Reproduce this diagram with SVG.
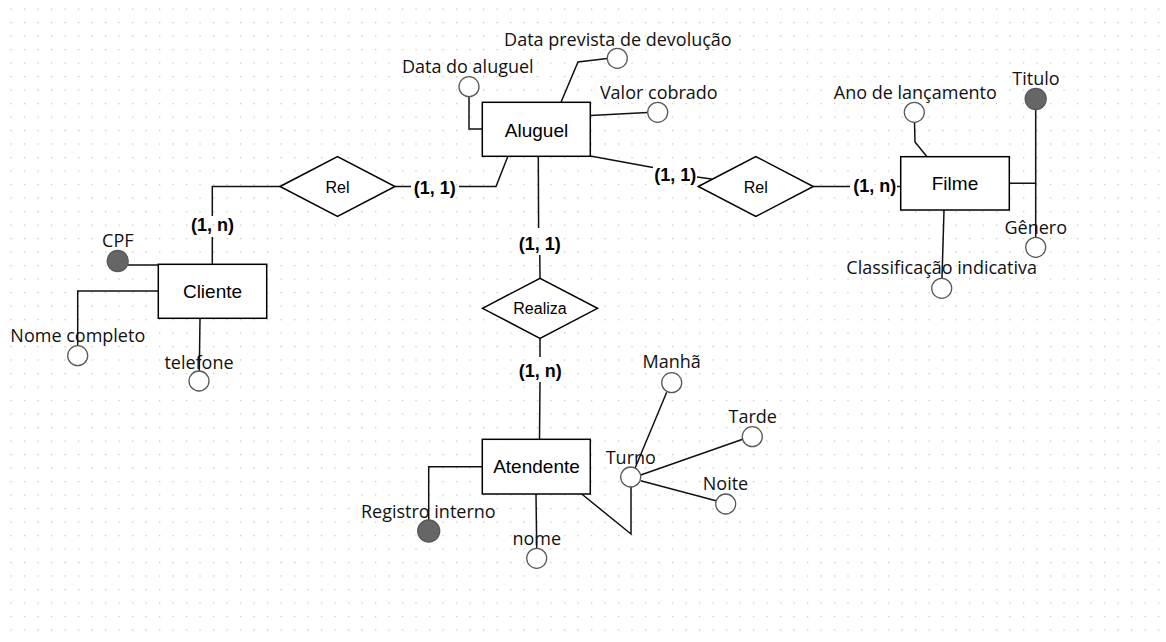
<svg xmlns="http://www.w3.org/2000/svg" width="1166" height="642" viewBox="0 0 1166 642">
<defs>
<pattern id="grid" patternUnits="userSpaceOnUse" x="10.4" y="8.4" width="13.5" height="13.5">
<rect x="0" y="0" width="1.3" height="1.3" fill="#c4c4c4"/>
</pattern>
<style>
.ent{fill:#fff;stroke:#000;stroke-width:1.5}
.rel{fill:#fff;stroke:#000;stroke-width:1.5}
.att{fill:#fff;stroke:#595959;stroke-width:1.3}
.key{fill:#666;stroke:#595959;stroke-width:1.3}
.ln{fill:none;stroke:#111;stroke-width:1.5}
.et{font-family:"Liberation Sans",Arial,sans-serif;font-size:19px;text-anchor:middle;fill:#000}
.rt{font-family:"Liberation Sans",Arial,sans-serif;font-size:16px;text-anchor:middle;fill:#000}
.at{font-family:"Open Sans","Noto Sans",sans-serif;font-size:18px;text-anchor:middle;fill:#111}
.card{font-family:"Liberation Sans",Arial,sans-serif;font-size:18px;font-weight:bold;text-anchor:middle;fill:#000}
</style>
</defs>
<rect width="1166" height="642" fill="#fff"/>
<rect width="1166" height="642" fill="url(#grid)"/>

<g id="connectors">
<path class="ln" d="M508,156 L496,186.5 L459,186.5 M411,186.5 L395,186.5"/>
<path class="ln" d="M280,186.5 L212.3,186.5 L212.3,216 M212.3,237 L212.3,264.3"/>
<path class="ln" d="M590.3,156 L653,167.5 M697,177 L711.7,179"/>
<path class="ln" d="M813.3,186.5 L850,186.5 M897,186.5 L900.7,186.5"/>
<path class="ln" d="M538.3,156.3 L538.6,228 M539.8,255 L540,278.3"/>
<path class="ln" d="M540,338.3 L540,357 M540,382 L539.5,439.3"/>
<path class="ln" d="M469,97 L469,129 L482.3,129"/>
<path class="ln" d="M561,102.3 L578,62 L607.3,58.5"/>
<path class="ln" d="M590.3,115.5 L647.7,112.5"/>
<path class="ln" d="M914.5,122.3 L915,142 L927,156.7"/>
<path class="ln" d="M1009.3,183.3 L1035.7,183.3 L1035.7,109"/>
<path class="ln" d="M1035.7,183.3 L1035.7,237.3"/>
<path class="ln" d="M944,210 L942,278.3"/>
<path class="ln" d="M127.5,265 L158.3,265"/>
<path class="ln" d="M158.3,291 L77.7,291 L77.7,345.7"/>
<path class="ln" d="M200,318.3 L199.3,371"/>
<path class="ln" d="M482.3,466.7 L428.7,466.7 L428.7,520"/>
<path class="ln" d="M536,494 L536.7,548.3"/>
<path class="ln" d="M581.7,494 L631,534 L631,487"/>
<path class="ln" d="M666.7,392.3 L635,468.3"/>
<path class="ln" d="M742.7,439.3 L640.7,475"/>
<path class="ln" d="M640.7,480.7 L716,500.7"/>
</g>

<g id="aluguel">
<rect class="ent" x="482.3" y="102.3" width="108" height="54"/>
<text class="et" x="536.5" y="136.5">Aluguel</text>
</g>
<g id="cliente">
<rect class="ent" x="158.3" y="264.3" width="108.4" height="54"/>
<text class="et" x="212.5" y="298">Cliente</text>
</g>
<g id="filme">
<rect class="ent" x="900.7" y="156.7" width="108.6" height="53.3"/>
<text class="et" x="955" y="190">Filme</text>
</g>
<g id="atendente">
<rect class="ent" x="482.3" y="439.3" width="108" height="54.7"/>
<text class="et" x="536.5" y="473">Atendente</text>
</g>

<g id="rel-cliente">
<polygon class="rel" points="280,186.5 337.5,156.5 395,186.5 337.5,216.5"/>
<text class="rt" x="337.5" y="192.5">Rel</text>
</g>
<g id="rel-filme">
<polygon class="rel" points="698.3,186.5 755.8,156.5 813.3,186.5 755.8,216.5"/>
<text class="rt" x="755.8" y="192.5">Rel</text>
</g>
<g id="realiza">
<polygon class="rel" points="482.5,308.3 540,278.3 597.5,308.3 540,338.3"/>
<text class="rt" x="540" y="313.5">Realiza</text>
</g>

<g id="card-labels">
<text class="card" x="434.7" y="193.5">(1, 1)</text>
<text class="card" x="212.5" y="230.7">(1, n)</text>
<text class="card" x="675.3" y="180.5">(1, 1)</text>
<text class="card" x="874.7" y="191.5">(1, n)</text>
<text class="card" x="539.7" y="250">(1, 1)</text>
<text class="card" x="540.3" y="377">(1, n)</text>
</g>

<g id="attr-data-aluguel"><circle class="att" cx="469" cy="86.7" r="10"/><text class="at" x="467.8" y="73">Data do aluguel</text></g>
<g id="attr-data-prevista"><circle class="att" cx="617.3" cy="58.3" r="10"/><text class="at" x="617.9" y="45.5">Data prevista de devolução</text></g>
<g id="attr-valor"><circle class="att" cx="657.7" cy="112.3" r="10"/><text class="at" x="658.8" y="98.5">Valor cobrado</text></g>
<g id="attr-ano"><circle class="att" cx="914.3" cy="112.3" r="10"/><text class="at" x="915.3" y="98.5">Ano de lançamento</text></g>
<g id="attr-titulo"><circle class="key" cx="1035.7" cy="99" r="10.5"/><text class="at" x="1036" y="85">Titulo</text></g>
<g id="attr-genero"><circle class="att" cx="1035.7" cy="247.3" r="10"/><text class="at" x="1035.8" y="233.5">Gênero</text></g>
<g id="attr-classificacao"><circle class="att" cx="941.7" cy="288.3" r="10"/><text class="at" x="941.7" y="273.5">Classificação indicativa</text></g>
<g id="attr-cpf"><circle class="key" cx="117.7" cy="261" r="10.5"/><text class="at" x="117.8" y="247">CPF</text></g>
<g id="attr-nome-completo"><circle class="att" cx="77.7" cy="355.7" r="10"/><text class="at" x="77.8" y="342">Nome completo</text></g>
<g id="attr-telefone"><circle class="att" cx="199" cy="381" r="10"/><text class="at" x="199" y="368.5">telefone</text></g>
<g id="attr-registro"><circle class="key" cx="428.7" cy="531" r="11"/><text class="at" x="428.3" y="517.5">Registro interno</text></g>
<g id="attr-nome"><circle class="att" cx="536.7" cy="558.3" r="10"/><text class="at" x="536.7" y="544.5">nome</text></g>
<g id="attr-turno"><circle class="att" cx="630.7" cy="477" r="10"/><text class="at" x="630.8" y="463.5">Turno</text></g>
<g id="attr-manha"><circle class="att" cx="671.7" cy="382.7" r="10"/><text class="at" x="671.7" y="368">Manhã</text></g>
<g id="attr-tarde"><circle class="att" cx="752.3" cy="436.7" r="10"/><text class="at" x="752.7" y="422.5">Tarde</text></g>
<g id="attr-noite"><circle class="att" cx="725.7" cy="504" r="10"/><text class="at" x="725.5" y="490">Noite</text></g>
</svg>
